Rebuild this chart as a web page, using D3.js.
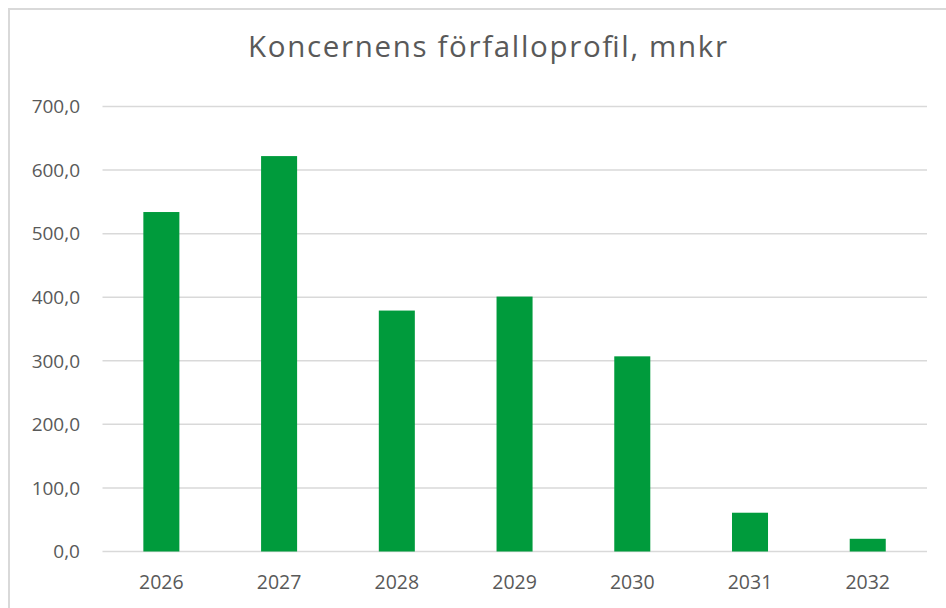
<!DOCTYPE html>
<html><head><meta charset="utf-8">
<script src="https://cdn.jsdelivr.net/npm/d3@7/dist/d3.min.js"></script>
<style>html,body{margin:0;padding:0;background:#fff;}svg{display:block;}</style>
</head><body>
<script>
const title = "Koncernens förfalloprofil, mnkr";
const years = ["2026","2027","2028","2029","2030","2031","2032"];
const values = [534, 622, 379, 401, 307, 61, 20];
const yTicks = [0,100,200,300,400,500,600,700];

const W = 946, H = 608;
const svg = d3.select("body").append("svg").attr("width", W).attr("height", H);
const font = "'Open Sans', 'Liberation Sans', sans-serif";
const textColor = "#595959";

// chart border (left and top visible)
svg.append("path").attr("d", `M9,${H} V9 H${W}`).attr("fill","none")
  .attr("stroke","#d9d9d9").attr("stroke-width",2);

const x = d3.scaleBand().domain(years).range([102.5, 926.6])
  .paddingInner(0.694).paddingOuter(0.347);
const y = d3.scaleLinear().domain([0,700]).range([551.5,106.5]);

// gridlines
svg.append("g").selectAll("line").data(yTicks).join("line")
  .attr("x1",102.5).attr("x2",927)
  .attr("y1",d=>y(d)).attr("y2",d=>y(d))
  .attr("stroke","#d9d9d9").attr("stroke-width",1.5);

// y labels
const fmt = d => d3.format(".1f")(d).replace(".", ",");
svg.append("g").selectAll("text").data(yTicks).join("text")
  .attr("x",80).attr("y",d=>y(d)).attr("dy","0.36em")
  .attr("text-anchor","end").attr("font-family",font).attr("font-size",19)
  .attr("fill",textColor).text(fmt);

// bars
svg.append("g").selectAll("rect").data(values).join("rect")
  .attr("x",(d,i)=>x(years[i])).attr("width",x.bandwidth())
  .attr("y",d=>y(d)).attr("height",d=>y(0)-y(d))
  .attr("fill","#009b3c");

// x labels
svg.append("g").selectAll("text").data(years).join("text")
  .attr("x",d=>x(d)+x.bandwidth()/2).attr("y",589)
  .attr("text-anchor","middle").attr("font-family",font).attr("font-size",19.5)
  .attr("fill",textColor).text(d=>d);

// title
svg.append("text").attr("x",487.5).attr("y",57).attr("text-anchor","middle")
  .attr("font-family",font).attr("font-size",29.5).attr("fill",textColor)
  .attr("textLength",479).attr("lengthAdjust","spacing")
  .text(title);
</script>
</body></html>
